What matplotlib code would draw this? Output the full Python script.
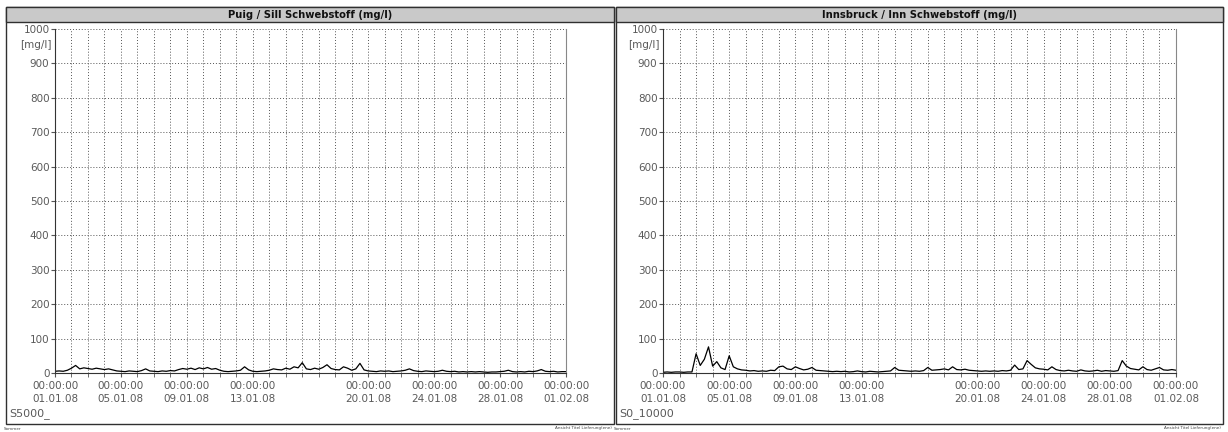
import numpy as np
import pandas as pd
import matplotlib
matplotlib.use("Agg")
import matplotlib.pyplot as plt
import matplotlib.dates as mdates
from matplotlib.patches import Rectangle

# 6-hourly readings, 01.01.08 00:00 to 01.02.08 00:00
times = pd.date_range("2008-01-01", periods=125, freq="6h")

sill_values = [
    5, 6, 5, 8,
    14, 22, 12, 15,
    13, 11, 14, 12,
    10, 12, 9, 6,
    5, 4, 6, 5,
    4, 7, 12, 6,
    5, 4, 6, 5,
    7, 6, 10, 13,
    11, 14, 10, 15,
    12, 16, 11, 13,
    8, 5, 4, 5,
    6, 8, 18, 9,
    5, 4, 5, 6,
    8, 12, 10, 9,
    14, 11, 18, 15,
    30, 12, 10, 14,
    11, 16, 24, 13,
    10, 9, 18, 14,
    8, 12, 28, 9,
    6, 5, 4, 6,
    5, 6, 4, 5,
    6, 8, 12, 7,
    5, 4, 6, 5,
    4, 5, 8, 5,
    4, 5, 3, 4,
    3, 4, 3, 4,
    3, 2, 3, 3,
    4, 5, 8, 4,
    3, 4, 3, 5,
    4, 6, 10, 5,
    4, 5, 3, 4,
    4,
]

inn_values = [
    2, 3, 2, 3,
    3, 2, 3, 3,
    56, 22, 40, 76,
    20, 33, 15, 10,
    50, 18, 12, 9,
    8, 6, 7, 5,
    6, 5, 8, 7,
    18, 20, 12, 10,
    18, 13, 9, 11,
    16, 8, 7, 6,
    5, 4, 5, 4,
    5, 3, 4, 6,
    4, 3, 5, 4,
    3, 4, 5, 6,
    16, 8, 7, 6,
    5, 6, 5, 7,
    16, 8, 9, 10,
    12, 9, 18, 10,
    9, 11, 8, 7,
    6, 5, 6, 5,
    6, 5, 7, 6,
    8, 23, 10, 12,
    36, 25, 15, 12,
    11, 9, 18, 10,
    7, 6, 8, 6,
    5, 9, 6, 5,
    6, 8, 5, 7,
    6, 5, 7, 36,
    20, 13, 11, 9,
    18, 10, 8, 12,
    16, 9, 8, 10,
    8,
]

titles = ["Puig / Sill Schwebstoff (mg/l)", "Innsbruck / Inn Schwebstoff (mg/l)"]
station_codes = ["S5000_", "S0_10000"]
tick_dates = ["2008-01-01", "2008-01-05", "2008-01-09", "2008-01-13",
              "2008-01-20", "2008-01-24", "2008-01-28", "2008-02-01"]
y_ticks = [0, 100, 200, 300, 400, 500, 600, 700, 800, 900, 1000]

W, H = 1228, 432
fig = plt.figure(figsize=(W / 100, H / 100), dpi=100)
fig.patch.set_facecolor("white")

def px(x0, y0, x1, y1):
    # pixel box (top-left origin) -> figure fraction rect
    return [x0 / W, 1 - y1 / H, (x1 - x0) / W, (y1 - y0) / H]

panels = [
    dict(frame=(6, 7, 614, 424), axes=(55, 29, 566, 373), series=sill_values),
    dict(frame=(616, 7, 1223, 424), axes=(663, 29, 1176, 373), series=inn_values),
]

txt_col = "#5a5a5a"

for i, p in enumerate(panels):
    fx0, fy0, fx1, fy1 = p["frame"]
    # outer frame
    fig.patches.append(Rectangle((fx0 / W, 1 - fy1 / H), (fx1 - fx0) / W, (fy1 - fy0) / H,
                                 transform=fig.transFigure, fill=False,
                                 edgecolor="#303030", lw=1.0))
    # title bar
    fig.patches.append(Rectangle((fx0 / W, 1 - 22 / H), (fx1 - fx0) / W, 15 / H,
                                 transform=fig.transFigure, facecolor="#c9c9c9",
                                 edgecolor="#303030", lw=1.0))
    fig.text((fx0 + fx1) / 2 / W, 1 - 14.5 / H, titles[i], ha="center", va="center",
             fontsize=7.2, fontweight="bold", color="#111111")

    ax = fig.add_axes(px(*p["axes"]))
    ax.plot(times, p["series"], color="black", lw=0.9)
    ax.set_xlim(pd.Timestamp("2008-01-01"), pd.Timestamp("2008-02-01"))
    ax.set_ylim(0, 1000)

    ax.set_yticks(y_ticks)
    ax.set_yticklabels([str(v) for v in y_ticks], fontsize=7.5, color=txt_col)
    ax.set_xticks([pd.Timestamp(d) for d in tick_dates])
    ax.set_xticklabels(["00:00:00\n" + pd.Timestamp(d).strftime("%d.%m.%y") for d in tick_dates],
                       fontsize=7.5, color=txt_col, linespacing=1.35)
    ax.xaxis.set_minor_locator(mdates.DayLocator())
    ax.tick_params(axis="x", which="both", length=3, color="#555555", pad=3)
    ax.tick_params(axis="y", length=3, color="#555555", pad=1)
    ax.grid(True, which="both", axis="x", color="#555555", ls=(0, (1, 2)), lw=0.7)
    ax.grid(True, which="major", axis="y", color="#555555", ls=(0, (1, 2)), lw=0.7)

    ax.spines["top"].set_visible(False)
    ax.spines["right"].set_color("#888888")
    ax.spines["left"].set_color("#333333")
    ax.spines["bottom"].set_color("#333333")

    ax0 = p["axes"][0]
    fig.text((ax0 - 3) / W, 1 - 45 / H, "[mg/l]", ha="right", va="center",
             fontsize=7.5, color=txt_col)
    fig.text((fx0 + 3) / W, 1 - 414 / H, station_codes[i], ha="left", va="center",
             fontsize=8, color=txt_col)
    fig.text((fx0 - 2) / W, 1 - 428.5 / H, "Sommer", ha="left", va="center",
             fontsize=3, color="#444444")
    fig.text((fx1 - 2) / W, 1 - 428.5 / H, "Ansicht Titel Lieferung(ene)", ha="right",
             va="center", fontsize=3, color="#444444")

fig.savefig("out.png", dpi=100)
